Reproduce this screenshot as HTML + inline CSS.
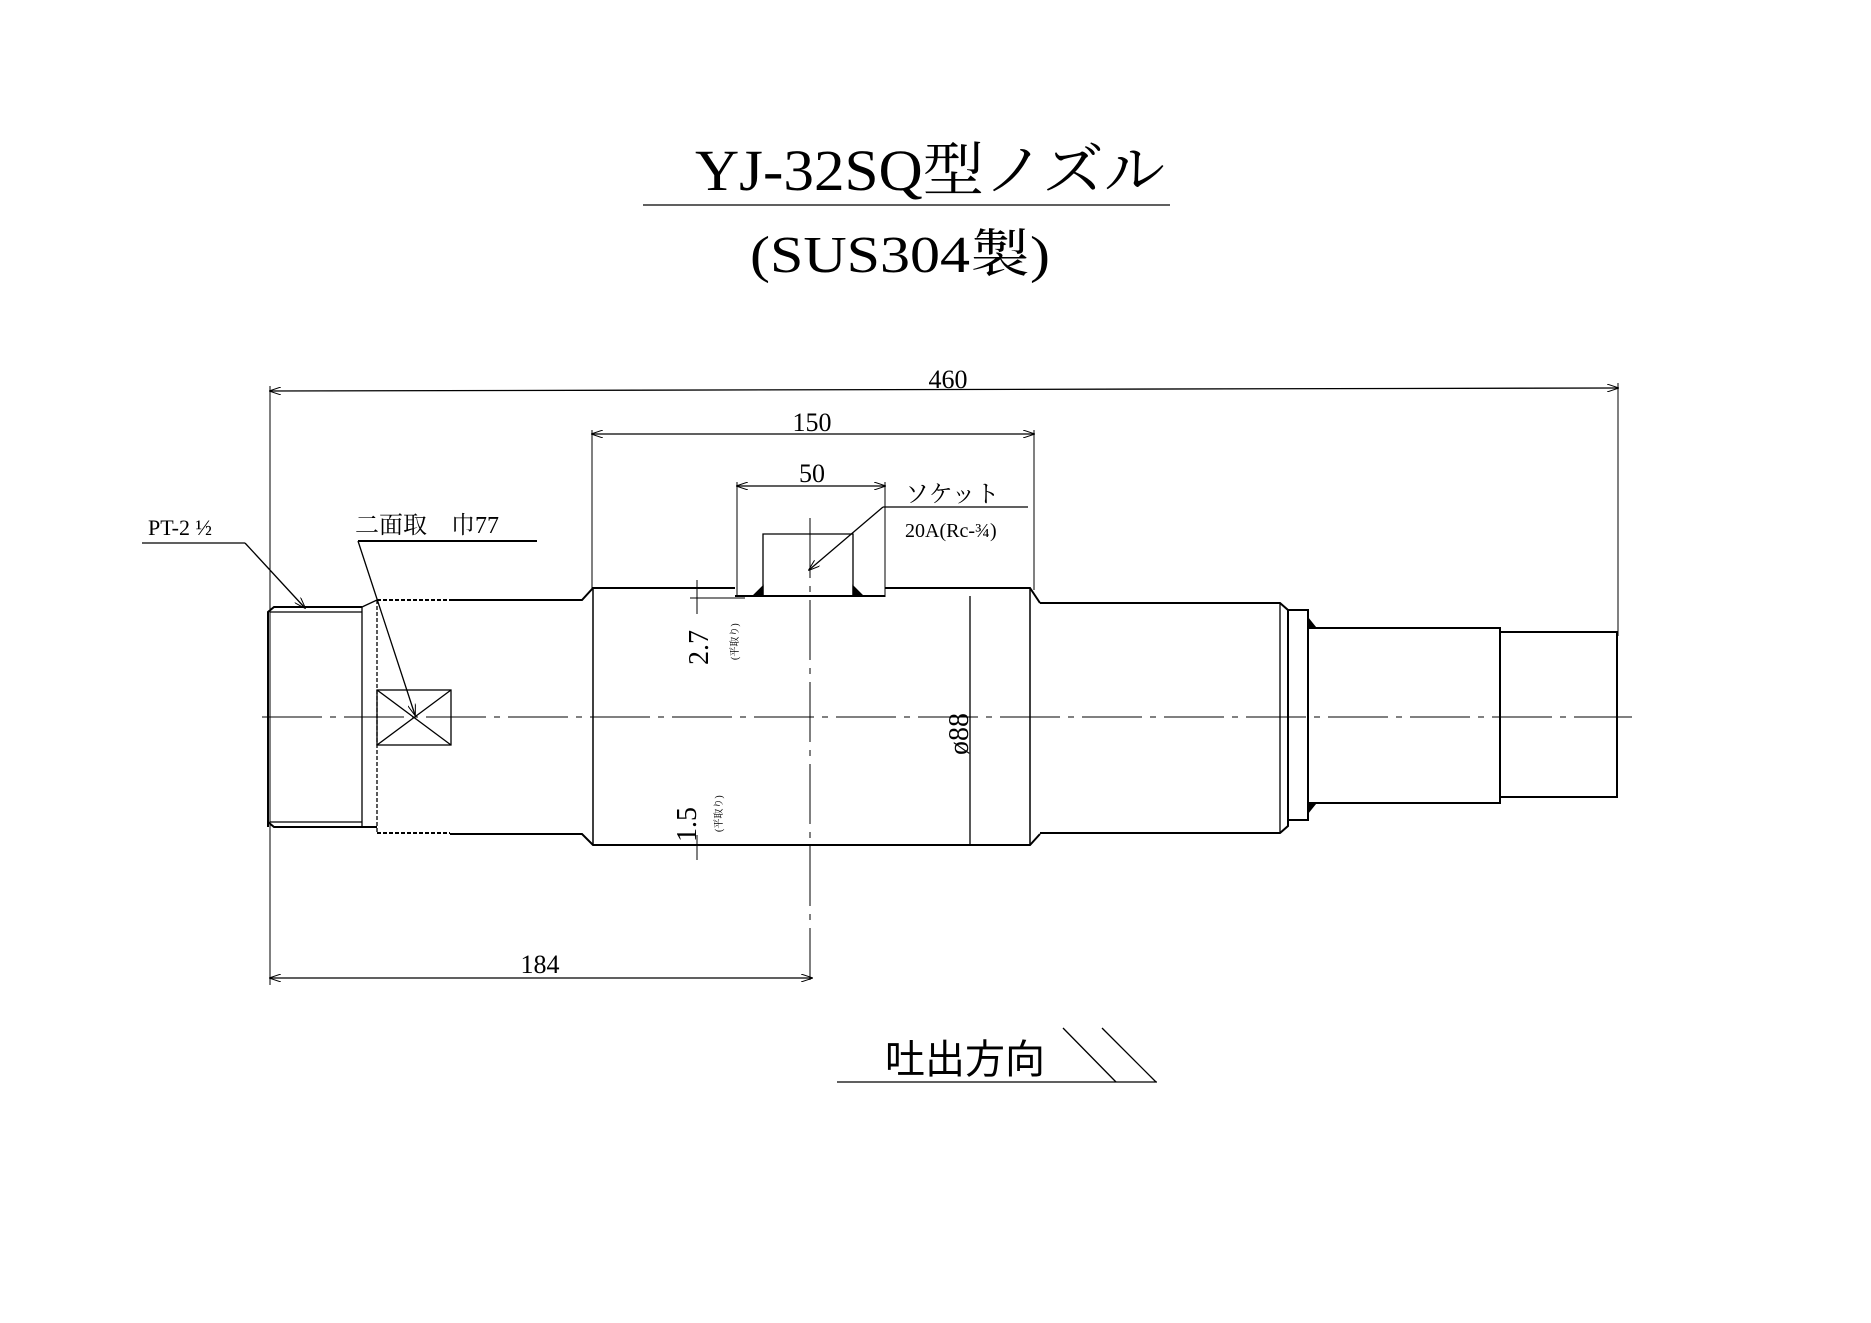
<!DOCTYPE html>
<html><head><meta charset="utf-8"><style>html,body{margin:0;padding:0;background:#fff}svg{display:block}</style></head>
<body>
<svg width="1871" height="1323" viewBox="0 0 1871 1323" xmlns="http://www.w3.org/2000/svg" font-family="'Liberation Serif','Noto Serif CJK SC','Noto Sans CJK JP',serif" fill="none" stroke="#000">
<defs>
<marker id="a" markerWidth="12" markerHeight="8" refX="11" refY="4" orient="auto" markerUnits="userSpaceOnUse"><path d="M0,0 L12,4 L0,8" stroke="#000" stroke-width="1" fill="none"/></marker>
<marker id="b" markerWidth="12" markerHeight="8" refX="1" refY="4" orient="auto" markerUnits="userSpaceOnUse"><path d="M12,0 L0,4 L12,8" stroke="#000" stroke-width="1" fill="none"/></marker>
</defs>
<g fill="#000" stroke="none">
<text x="930" y="190" font-size="58" text-anchor="middle" textLength="470" lengthAdjust="spacingAndGlyphs">YJ-32SQ型ノズル</text>
<text x="900" y="272" font-size="52" text-anchor="middle" textLength="300" lengthAdjust="spacingAndGlyphs">(SUS304製)</text>
<text x="948" y="388" font-size="26" text-anchor="middle">460</text>
<text x="812" y="431" font-size="26" text-anchor="middle">150</text>
<text x="812" y="482" font-size="26" text-anchor="middle">50</text>
<text x="905" y="502" font-size="24">ソケット</text>
<text x="905" y="537" font-size="20">20A(Rc-¾)</text>
<text x="148" y="535" font-size="22">PT-2 ½</text>
<text x="355" y="533" font-size="24">二面取　巾77</text>
<text x="540" y="973" font-size="26" text-anchor="middle">184</text>
<text x="885" y="1073" font-size="40" font-family="'Noto Sans CJK JP',sans-serif">吐出方向</text>
<text transform="translate(708,665) rotate(-90)" font-size="28">2.7</text>
<text transform="translate(738,660) rotate(-90)" font-size="10">(平取り)</text>
<text transform="translate(696,842) rotate(-90)" font-size="28">1.5</text>
<text transform="translate(722,832) rotate(-90)" font-size="10">(平取り)</text>
<text transform="translate(968,755) rotate(-90)" font-size="28">ø88</text>
</g>
<g stroke-width="1.3">
<line x1="643" y1="205" x2="1170" y2="205"/>
<!-- 460 -->
<line x1="270" y1="391" x2="1618" y2="388" marker-start="url(#b)" marker-end="url(#a)"/>
<line x1="270" y1="386" x2="270" y2="985" stroke-width="1"/>
<line x1="1618" y1="383" x2="1618" y2="636" stroke-width="1"/>
<!-- 150 -->
<line x1="592" y1="434" x2="1034" y2="434" marker-start="url(#b)" marker-end="url(#a)"/>
<line x1="592" y1="430" x2="592" y2="590" stroke-width="1"/>
<line x1="1034" y1="430" x2="1034" y2="590" stroke-width="1"/>
<!-- 50 -->
<line x1="737" y1="486" x2="885" y2="486" marker-start="url(#b)" marker-end="url(#a)"/>
<line x1="737" y1="482" x2="737" y2="597" stroke-width="1"/>
<line x1="885" y1="482" x2="885" y2="597" stroke-width="1"/>
<!-- socket -->
<path d="M763,596 L763,534 L853,534 L853,596"/>
<line x1="735" y1="596" x2="885" y2="596" stroke-width="2"/>
<path d="M753,596 L763,586 L763,596Z M853,586 L863,596 L853,596Z" fill="#000"/>
<line x1="883" y1="507" x2="1028" y2="507"/>
<line x1="883" y1="507" x2="809" y2="570" marker-end="url(#a)"/>
<!-- center lines -->
<line x1="810" y1="518" x2="810" y2="980" stroke-width="1" stroke-dasharray="60,8,6,8"/>
<line x1="262" y1="717" x2="1632" y2="717" stroke-width="1" stroke-dasharray="60,8,6,8"/>
<!-- left thread -->
<path d="M268,827 L268,612 L274,607 L362,607" stroke-width="2"/>
<line x1="270" y1="612" x2="362" y2="612"/>
<line x1="270" y1="822" x2="362" y2="822"/>
<path d="M268,822 L274,827 L377,827" stroke-width="2"/>
<line x1="362" y1="607" x2="362" y2="827"/>
<line x1="377" y1="600" x2="377" y2="833" stroke-dasharray="4,2"/>
<line x1="362" y1="607" x2="377" y2="600"/>
<line x1="377" y1="600" x2="450" y2="600" stroke-width="2" stroke-dasharray="4,2"/>
<line x1="377" y1="833" x2="450" y2="833" stroke-width="2" stroke-dasharray="4,2"/>
<path d="M450,600 L582,600 L593,588 L735,588" stroke-width="2"/>
<path d="M450,834 L582,834 L593,845 L1030,845 L1040,834" stroke-width="2"/>
<path d="M885,588 L1030,588 L1040,603" stroke-width="2"/>
<line x1="593" y1="588" x2="593" y2="845" stroke-width="1.5"/>
<line x1="1030" y1="588" x2="1030" y2="845" stroke-width="1.5"/>
<line x1="970" y1="596" x2="970" y2="845"/>
<!-- square -->
<rect x="377" y="690" width="74" height="55"/>
<line x1="377" y1="690" x2="451" y2="745"/><line x1="451" y1="690" x2="377" y2="745"/>
<!-- right shafts -->
<path d="M1040,603 L1280,603 L1288,610 L1288,826 L1280,833 L1040,833" stroke-width="2"/>
<line x1="1280" y1="603" x2="1280" y2="833"/>
<path d="M1288,610 L1308,610 L1308,820 L1288,820" stroke-width="2"/>
<path d="M1308,628 L1500,628 L1500,803 L1308,803" stroke-width="2"/>
<path d="M1308,618 L1316,628 L1308,628Z M1308,813 L1316,803 L1308,803Z" fill="#000"/>
<path d="M1500,632 L1617,632 L1617,797 L1500,797" stroke-width="2"/>
<!-- small dims -->
<line x1="697" y1="580" x2="697" y2="614" stroke-width="1"/>
<line x1="690" y1="598" x2="745" y2="598" stroke-width="1"/>
<line x1="697" y1="835" x2="697" y2="860" stroke-width="1"/>
<line x1="690" y1="845" x2="725" y2="845" stroke-width="1"/>
<!-- 184 -->
<line x1="270" y1="978" x2="812" y2="978" marker-start="url(#b)" marker-end="url(#a)"/>
<!-- leaders -->
<line x1="142" y1="543" x2="245" y2="543"/>
<line x1="245" y1="543" x2="305" y2="608" marker-end="url(#a)"/>
<line x1="358" y1="541" x2="537" y2="541" stroke-width="2"/>
<line x1="358" y1="541" x2="415" y2="715" marker-end="url(#a)"/>
<!-- direction -->
<line x1="837" y1="1082" x2="1157" y2="1082"/>
<line x1="1063" y1="1028" x2="1116" y2="1082"/>
<line x1="1102" y1="1028" x2="1156" y2="1082"/>
</g>
</svg>
</body></html>
